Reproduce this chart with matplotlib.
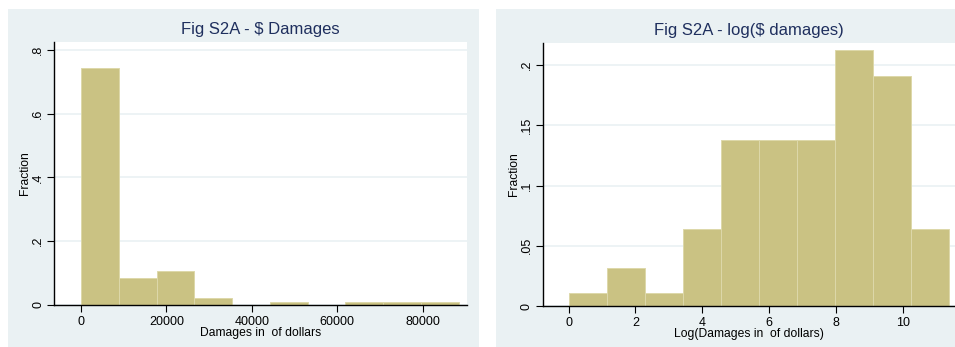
import matplotlib
matplotlib.use('Agg')
import matplotlib.pyplot as plt
from matplotlib.patches import Rectangle
import numpy as np

# histogram bin counts (94 observations), 10 bins each
N_OBS = 94
dollar_bin_width = 8840
dollar_counts = [70, 8, 10, 2, 0, 1, 0, 1, 1, 1]
log_bin_width = 1.139
log_counts = [1, 3, 1, 6, 13, 13, 13, 20, 18, 6]

dollar_xticks = [0, 20000, 40000, 60000, 80000]
dollar_yticks = [0, 0.2, 0.4, 0.6, 0.8]
dollar_ylabels = ['0', '.2', '.4', '.6', '.8']
log_xticks = [0, 2, 4, 6, 8, 10]
log_yticks = [0, 0.05, 0.1, 0.15, 0.2]
log_ylabels = ['0', '.05', '.1', '.15', '.2']

BAR = '#CAC283'
BAR_EDGE = '#DDD8AA'
PANEL = '#EAF1F3'
TITLE = '#1F2F5E'

plt.rcParams['font.family'] = ['Liberation Sans', 'DejaVu Sans']

W, H = 955, 347
fig = plt.figure(figsize=(W / 100, H / 100), dpi=100)
fig.patch.set_facecolor('white')

# light graph-region panels behind each plot
for x0, x1 in [(8, 479), (496, 955)]:
    fig.patches.append(Rectangle((x0 / W, 0), (x1 - x0) / W, (H - 9) / H,
                                 transform=fig.transFigure, facecolor=PANEL,
                                 edgecolor='none', zorder=-1))


def style(ax, title, xlabel, xticks, yticks, ylabels):
    ax.set_facecolor('white')
    for s in ['top', 'right']:
        ax.spines[s].set_visible(False)
    for s in ['left', 'bottom']:
        ax.spines[s].set_linewidth(1.0)
        ax.spines[s].set_color('black')
    ax.set_xticks(xticks)
    ax.set_yticks(yticks)
    ax.set_yticklabels(ylabels, rotation=90, va='center')
    ax.tick_params(axis='both', length=5, width=0.8, labelsize=9)
    ax.tick_params(axis='x', pad=3)
    ax.tick_params(axis='y', pad=2)
    ax.yaxis.grid(True, color=PANEL, linewidth=1.2)
    ax.set_axisbelow(True)
    ax.set_title(title, color=TITLE, fontsize=12, pad=6)
    ax.set_xlabel(xlabel, fontsize=8.7, labelpad=-1)
    ax.set_ylabel('Fraction', fontsize=8.7, labelpad=1)


def draw_hist(ax, start, width, counts):
    edges = start + width * np.arange(len(counts) + 1)
    fractions = np.array(counts) / N_OBS
    ax.hist(edges[:-1], bins=edges, weights=fractions, color=BAR,
            edgecolor=BAR_EDGE, linewidth=0.7, zorder=2)


# left: damages in dollars
ax1 = fig.add_axes([54 / W, (H - 305) / H, (466.7 - 54) / W, (305 - 42) / H])
draw_hist(ax1, 0, dollar_bin_width, dollar_counts)
ax1.set_xlim(-6320, 90290)
ax1.set_ylim(0, 0.825)
style(ax1, 'Fig S2A - \\$ Damages', 'Damages in  of dollars',
      dollar_xticks, dollar_yticks, dollar_ylabels)

# right: log damages
ax2 = fig.add_axes([542.7 / W, (H - 306) / H, (955 - 542.7) / W, (306 - 43) / H])
draw_hist(ax2, 0, log_bin_width, log_counts)
ax2.set_xlim(-0.778, 11.57)
ax2.set_ylim(0, 0.2185)
style(ax2, 'Fig S2A - log(\\$ damages)', 'Log(Damages in  of dollars)',
      log_xticks, log_yticks, log_ylabels)

fig.savefig('out.png', dpi=100, facecolor=fig.get_facecolor())
